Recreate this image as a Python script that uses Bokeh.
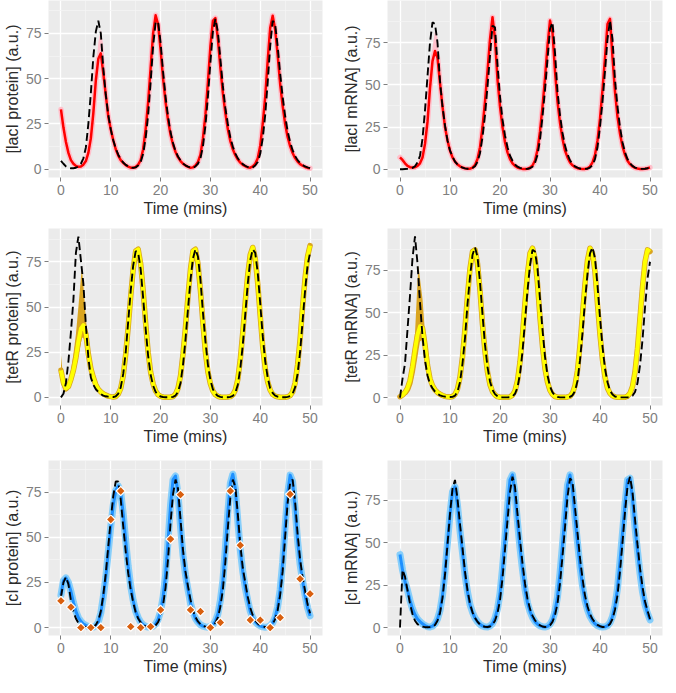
import numpy as np
from bokeh.plotting import figure
from bokeh.layouts import column, row
from bokeh.models import Range1d, FixedTicker
from bokeh.embed import file_html
from bokeh.resources import INLINE

# ---------------- data ----------------
TIME = [i * 0.5 for i in range(101)]  # minutes, 0 .. 50 in half-minute steps

X_TICKS = [0, 10, 20, 30, 40, 50]
X_MINOR = [5, 15, 25, 35, 45]
Y_TICKS = [0, 25, 50, 75]
Y_MINOR = [12.5, 37.5, 62.5, 87.5]

# lacI protein
LACI_P_MEAN = [33, 23, 15, 9, 5, 3, 1.8, 1.3, 1.5, 2.5,
               4.5, 9, 17, 31, 49, 61, 64, 53, 41, 29,
               22, 16, 11, 7.5, 5, 3.5, 2.2, 1.4, 0.8, 0.8,
               1.2, 2.5, 5, 11, 22, 37, 56, 75, 85, 80,
               66, 50, 37, 27, 19, 13.5, 9.5, 6.5, 4.5, 3,
               2, 1.3, 0.8, 1, 2, 4, 8, 17, 30, 48,
               68, 82, 83.5, 72, 56, 42, 31, 22, 15.5, 11,
               7.7, 5.3, 3.6, 2.4, 1.6, 1.0, 0.8, 1.5, 3, 6,
               13, 25, 40, 60, 78, 84.8, 77, 63, 47, 35,
               25, 17.8, 12.7, 8.9, 6.1, 4.2, 2.8, 1.9, 1.2, 0.7,
               0.5]
LACI_P_DET = [4.6, 3, 1.5, 0.8, 0.5, 0.5, 0.8, 1.5, 3, 6,
              12, 25, 42, 62, 76, 82, 75, 56, 41, 30,
              22, 16, 11.5, 8, 5.5, 3.7, 2.4, 1.6, 0.9, 0.7,
              1, 2, 4, 8.5, 17, 30, 48, 68, 81, 81.5,
              70, 54, 40, 29, 20.5, 14.5, 10, 7, 4.8, 3.2,
              2.1, 1.4, 0.9, 0.7, 1.5, 3, 6, 12.5, 24, 40,
              59, 76, 83, 76, 61, 46, 34, 25, 17.5, 12.5,
              8.7, 6, 4.1, 2.8, 1.9, 1.2, 0.8, 1, 2, 4,
              8.5, 17, 30, 48, 68, 82, 80, 68, 53, 40,
              29.5, 21, 15, 10.5, 7.3, 5, 3.4, 2.3, 1.5, 1,
              0.6]
LACI_P_BAND_T = [6.5, 7, 7.5, 8, 8.5, 9, 9.5]
LACI_P_BAND_LO = [28, 46, 58, 61, 50, 38, 26]
LACI_P_BAND_HI = [35, 55, 70, 77, 68, 50, 33]

# lacI mRNA
LACI_M_MEAN = [7, 5.5, 3.5, 2, 1.2, 1, 1.2, 2, 3.5, 7,
               15, 28, 48, 64, 70, 66, 51, 37, 25, 17,
               11, 7, 4.5, 2.8, 1.7, 1, 0.5, 0.3, 0.3, 1,
               2.5, 6, 13, 25, 40, 58, 77, 90, 77, 53,
               37, 25, 16, 10, 6, 3.5, 2, 1, 0.5, 0.2,
               0.2, 0.3, 0.9, 2.2, 5.2, 11.5, 22.5, 37, 54, 73,
               88, 81, 58, 40, 27.5, 18, 11, 7, 4, 2.3,
               1.2, 0.6, 0.3, 0.2, 0.2, 0.6, 1.6, 4, 8.5, 17,
               30, 47, 66, 86, 89, 66, 46, 31, 21, 13.5,
               8.5, 5, 3, 1.6, 0.8, 0.4, 0.2, 0.2, 0.3, 0.6,
               1]
LACI_M_DET = [0, 0, 0.1, 0.2, 0.4, 0.8, 1.8, 4, 8, 18,
              35, 55, 75, 87, 86, 75, 52, 37, 26, 17,
              11, 7.5, 4.5, 2.8, 1.7, 1, 0.5, 0.3, 0.3, 0.7,
              1.8, 4.3, 9.5, 19, 32, 49, 67, 85, 84, 62,
              43, 29.5, 20, 13, 8, 5, 2.8, 1.5, 0.8, 0.4,
              0.2, 0.2, 0.6, 1.5, 3.8, 8.5, 17.5, 31, 47, 65,
              83, 87, 69, 46, 32, 21.5, 14, 8.8, 5.3, 3,
              1.7, 0.9, 0.4, 0.2, 0.2, 0.3, 1, 2.5, 6, 13,
              25, 40, 58, 77, 88, 77, 53, 37, 25, 16,
              10, 6, 3.5, 2, 1, 0.5, 0.2, 0.2, 0.3, 0.6,
              1]
LACI_M_BAND_T = [6, 6.5, 7, 7.5, 8]
LACI_M_BAND_LO = [45, 60, 66, 62, 48]
LACI_M_BAND_HI = [54, 72, 82, 78, 58]

# tetR protein
TETR_P_MEAN = [15, 8, 5, 6, 10, 15, 22, 31, 38, 40,
               35, 24, 16, 11, 7, 4.5, 3, 2, 1.2, 0.7,
               0.4, 0.2, 0.5, 1.8, 5, 12, 24, 39, 56, 71,
               81, 82, 74, 59, 41, 25, 14, 7.5, 3.5, 1.5,
               0.6, 0.2, 0.1, 0.1, 0.2, 0.5, 1.8, 5, 12, 24,
               39, 56, 71, 81, 82, 74, 59, 41, 25, 14,
               7.5, 3.5, 1.5, 0.6, 0.2, 0.1, 0.1, 0.2, 0.4, 1.4,
               4, 10, 21, 36, 53, 68, 79, 83, 77, 63,
               45, 28, 16, 8.5, 4, 1.7, 0.7, 0.3, 0.1, 0.1,
               0.1, 0.3, 1, 3, 8, 18, 32, 50, 66, 78,
               84]
TETR_P_DET = [0, 2, 8, 20, 36, 54, 80, 89, 76, 63,
              40, 22, 11, 7, 4.5, 3, 1.8, 1, 0.6, 0.4,
              0.3, 0.2, 0.6, 2, 5.5, 13, 25, 42, 59, 73,
              81, 80, 71, 55, 38, 23, 12.5, 6.5, 3, 1.3,
              0.5, 0.2, 0.1, 0.1, 0.1, 0.3, 1, 3, 8, 18,
              32, 49, 65, 77, 82, 78, 65, 47, 31, 18,
              9.5, 4.5, 2, 0.8, 0.3, 0.1, 0.1, 0.1, 0.3, 0.8,
              2.5, 7, 16, 29, 46, 63, 76, 82, 80, 69,
              52, 34, 20, 11, 5, 2.4, 1, 0.4, 0.1, 0.1,
              0.1, 0.3, 0.7, 2, 5.5, 13, 25, 42, 59, 73,
              80]
TETR_P_BAND_T = [0, 0.5, 1, 1.5, 2, 2.5, 3, 3.5, 4, 4.2, 4.5, 5, 5.5, 6, 6.5, 7, 7.5, 8]
TETR_P_BAND_LO = [8, 4, 3, 4, 7, 11, 16, 23, 30, 33, 33, 29, 20, 13, 8.5, 5.5, 3.5, 2.2]
TETR_P_BAND_HI = [23.5, 9, 6, 9, 15, 24, 35, 50, 66, 72, 62, 44, 28, 19, 13, 9, 6, 4]

# tetR mRNA
TETR_M_MEAN = [0.5, 1.5, 3, 5.5, 10, 18, 28, 37, 42, 41,
               31, 19, 11, 7, 4.5, 3, 2, 1.2, 0.7, 0.4,
               0.3, 0.6, 1.8, 5, 12, 24, 41, 60, 76, 86,
               87, 79, 63, 43, 27, 15, 7.5, 3.5, 1.5, 0.5,
               0.2, 0.1, 0.1, 0.1, 0.4, 1.4, 4, 10, 21, 37,
               56, 73, 85, 88, 82, 67, 47, 30, 17, 9,
               4.2, 1.8, 0.6, 0.2, 0.1, 0.1, 0.1, 0.3, 0.8, 2.6,
               7, 16, 31, 49, 67, 81, 88, 85, 74, 55,
               37, 22, 12, 5.5, 2.5, 1, 0.4, 0.1, 0.1, 0.1,
               0.2, 0.8, 2.5, 6.5, 15, 29, 47, 65, 80, 87,
               86]
TETR_M_DET = [0, 11, 20, 40, 60, 82, 95, 79, 56, 36,
              22, 13, 8, 5.5, 3.5, 2.2, 1.3, 0.8, 0.5, 0.3,
              0.3, 0.4, 1.1, 3.5, 9, 20, 35, 55, 71, 84,
              88.5, 83, 68, 49, 31, 18, 9.5, 4.5, 2, 0.8,
              0.3, 0.1, 0.1, 0.1, 0.2, 0.7, 2.2, 6, 14, 27,
              45, 63, 78, 87, 86, 76, 58, 40, 24, 13,
              6.5, 3, 1.2, 0.4, 0.1, 0.1, 0.1, 0.1, 0.4, 1.3,
              3.8, 9.8, 22, 38, 57, 73, 85, 88.5, 82, 66,
              47, 30, 17, 9, 4, 1.8, 0.6, 0.2, 0.1, 0.1,
              0.1, 0.1, 0.3, 1, 3.2, 8.5, 19, 34, 53, 70,
              80]
TETR_M_BAND_T = [0, 0.5, 1, 1.5, 2, 2.5, 3, 3.5, 3.7, 4, 4.5, 5, 5.5, 6, 6.5, 7, 7.5, 8]
TETR_M_BAND_LO = [0, 0.5, 1, 2, 4, 8, 15, 24, 28, 33, 34, 24, 14, 8, 5, 3, 2, 1]
TETR_M_BAND_HI = [0.5, 1, 2, 4, 8, 17, 38, 68, 78, 70, 58, 38, 22, 13, 8, 5, 3, 2]

# cI protein
CI_P_MEAN = [18, 26, 27.5, 25, 20, 14, 9, 5.5, 3.5, 2,
             1.2, 0.5, 0.3, 0.3, 1, 3, 8, 17, 28, 42,
             56, 68, 76, 78.5, 75, 63, 48, 34, 23, 15,
             9, 5.5, 3, 1.5, 0.7, 0.3, 0.3, 0.7, 2, 4.5,
             9, 17, 29, 48, 68, 82, 84, 74, 56, 40,
             29, 21, 13.5, 8.5, 5, 3, 1.6, 0.8, 0.4, 0.2,
             0.6, 1.6, 3.6, 7.5, 15, 26, 44, 64, 80, 85,
             77, 59, 43, 31, 22, 15, 9, 5.5, 3.2, 1.8,
             0.9, 0.4, 0.2, 0.4, 1, 2.6, 5.8, 11.5, 21, 36,
             56, 74, 84.5, 81, 66, 48, 35, 26, 18, 11,
             6.5]
CI_P_DET = [17, 25, 28, 24, 15, 9, 5, 2.5, 1.2, 0.6,
            0.3, 0.2, 0.2, 0.5, 1.5, 4, 9, 18, 30, 45,
            60, 73, 81, 81, 71, 56, 42, 30, 21, 14,
            8.5, 5, 2.8, 1.4, 0.7, 0.3, 0.2, 0.4, 1.2, 3,
            6.3, 12.5, 22, 38, 58, 74, 82, 77, 60, 43,
            31, 23, 15.5, 9.5, 5.8, 3.4, 1.9, 1, 0.5, 0.2,
            0.3, 1, 2.6, 5.6, 11.5, 21, 36, 55, 72, 82,
            78, 63, 46, 33, 25, 17, 11, 6.8, 4, 2.3,
            1.2, 0.6, 0.3, 0.3, 0.8, 2, 4.7, 9.5, 18, 31,
            50, 69, 80, 82, 70, 52, 38, 28, 20.5, 13,
            8]
CI_OBS_T = [0, 2, 4, 6, 8, 10, 12, 14, 16, 18, 20, 22, 24, 26, 28, 30,
            32, 34, 36, 38, 40, 42, 44, 46, 48, 50]
CI_OBS_Y = [14.8, 11.3, 0, 0, 0, 59.9, 75.7, 0.5, 0, 0.5, 9.8, 49, 73.7, 9.8, 8.9, 0,
            2.8, 75.7, 45.6, 4.2, 4.1, 0, 5.5, 73.9, 27, 18.7]

# cI mRNA
CI_M_MEAN = [43, 34, 27, 22, 16, 11, 7.5, 5, 3.5, 2.2,
             1.2, 0.5, 0.3, 0.8, 2.2, 5, 10, 19, 33, 50,
             67, 80, 83, 72, 57, 44, 31, 21, 13.5, 9,
             5.6, 3.4, 1.9, 0.9, 0.4, 0.3, 0.9, 2.3, 5.5, 11,
             20, 35, 53, 71, 87, 90, 79, 62, 47, 34,
             22.5, 14.5, 9.5, 6, 3.5, 2, 1, 0.5, 0.3, 0.7,
             1.9, 4.5, 9.5, 18, 32, 49, 67, 84, 90, 81,
             65, 50, 36, 24.5, 16, 10.5, 6.5, 4, 2.2, 1.1,
             0.5, 0.3, 0.4, 1.1, 2.8, 6.5, 13, 23, 39, 56,
             73, 87, 88, 76, 59, 45, 32, 21, 13.5, 8.5,
             4.5]
CI_M_DET = [0, 34, 30, 22, 14, 8, 4, 2, 1, 0.5,
            0.2, 0.2, 0.3, 0.5, 1.5, 4, 8.5, 17.5, 31, 49,
            67, 82, 87, 76, 61, 47, 33, 22, 14, 9,
            5.7, 3.4, 1.8, 0.9, 0.4, 0.3, 0.6, 1.6, 4, 8.5,
            16, 29, 46, 63, 80, 89, 83, 67, 52, 38,
            26, 17, 11, 7, 4.3, 2.5, 1.3, 0.6, 0.3, 0.5,
            1.3, 3.3, 7.3, 14, 26, 42, 59, 77, 88, 86,
            71, 56, 41, 29, 19, 12.5, 8, 5, 3, 1.6,
            0.8, 0.3, 0.3, 0.8, 2.1, 5, 10.5, 19, 33, 50,
            68, 83, 89, 80, 64, 49, 35, 24, 15.5, 10,
            5]
CI_M_BAND_T = [0, 0.5, 1, 1.5, 2, 2.5, 3]
CI_M_BAND_LO = [39, 30, 23, 18, 13, 9, 6]
CI_M_BAND_HI = [47, 38, 31, 29, 21, 14, 9.5]

# ---------------- styling helpers ----------------
FONT = "Liberation Sans"


def make_panel(ylabel, yr, width, height, left, right, top, bottom):
    p = figure(width=width, height=height,
               x_range=Range1d(-2.5, 52.5), y_range=Range1d(*yr),
               output_backend="svg", toolbar_location=None,
               min_border_left=left, min_border_right=right,
               min_border_top=top, min_border_bottom=bottom)
    p.background_fill_color = "#EBEBEB"
    p.border_fill_color = "white"
    p.outline_line_color = None
    xt = FixedTicker(ticks=X_TICKS, minor_ticks=X_MINOR)
    yt = FixedTicker(ticks=Y_TICKS, minor_ticks=Y_MINOR)
    p.xaxis.ticker = xt
    p.yaxis.ticker = yt
    p.xgrid.ticker = xt
    p.ygrid.ticker = yt
    for g in (p.xgrid[0], p.ygrid[0]):
        g.grid_line_color = "white"
        g.grid_line_width = 1.3
        g.minor_grid_line_color = "#F4F4F4"
        g.minor_grid_line_width = 0.8
    for ax in (p.xaxis[0], p.yaxis[0]):
        ax.axis_line_color = None
        ax.major_tick_line_color = "#7F7F7F"
        ax.major_tick_in = 0
        ax.major_tick_out = 4
        ax.minor_tick_line_color = None
        ax.major_label_text_color = "#7F7F7F"
        ax.major_label_text_font = FONT
        ax.major_label_text_font_size = "14px"
        ax.major_label_standoff = 3
        ax.axis_label_text_font = FONT
        ax.axis_label_text_font_size = "16px"
        ax.axis_label_text_font_style = "normal"
        ax.axis_label_text_color = "#2B2B2B"
        ax.axis_label_standoff = 2
    p.xaxis.axis_label = "Time (mins)"
    p.yaxis.axis_label = ylabel
    return p


def draw(p, mean, det, band_t, band_lo, band_hi, line_col, band_col, band_w, line_w):
    if band_t is not None:
        p.varea(x=band_t, y1=band_lo, y2=band_hi, fill_color=band_col, fill_alpha=1.0)
    p.line(TIME, mean, line_color=band_col, line_width=band_w, line_join="round", line_cap="round")
    p.line(TIME, mean, line_color=line_col, line_width=line_w, line_join="round")
    p.line(TIME, det, line_color="black", line_width=1.9, line_dash="8 4")


W1, W2 = 339, 327
H1, H2, H3 = 228, 228, 226

p1 = make_panel("[lacI protein] (a.u.)", (-4.6, 93.2), W1, H1, 44, 17, 0, 51)
draw(p1, LACI_P_MEAN, LACI_P_DET, LACI_P_BAND_T, LACI_P_BAND_LO, LACI_P_BAND_HI,
     "#FF0000", "#FFC0CB", 5.5, 2.5)
p2 = make_panel("[lacI mRNA] (a.u.)", (-4.9, 99.9), W2, H1, 44, 4, 0, 51)
draw(p2, LACI_M_MEAN, LACI_M_DET, LACI_M_BAND_T, LACI_M_BAND_LO, LACI_M_BAND_HI,
     "#FF0000", "#FFC0CB", 5.5, 2.5)

p3 = make_panel("[tetR protein] (a.u.)", (-4.5, 93.5), W1, H2, 44, 17, 0, 51)
draw(p3, TETR_P_MEAN, TETR_P_DET, TETR_P_BAND_T, TETR_P_BAND_LO, TETR_P_BAND_HI,
     "#FFFF00", "#DAA520", 5.5, 4)
p4 = make_panel("[tetR mRNA] (a.u.)", (-4.7, 99.6), W2, H2, 44, 4, 0, 51)
draw(p4, TETR_M_MEAN, TETR_M_DET, TETR_M_BAND_T, TETR_M_BAND_LO, TETR_M_BAND_HI,
     "#FFFF00", "#DAA520", 5.5, 4)

p5 = make_panel("[cI protein] (a.u.)", (-4.4, 92.6), W1, H3, 44, 17, 4, 47)
draw(p5, CI_P_MEAN, CI_P_DET, None, None, None, "#1E90FF", "#87CEFA", 7, 3)
p5.scatter(CI_OBS_T, CI_OBS_Y, marker="square", angle=np.pi / 4, size=6.5,
           fill_color="#D95F0E", line_color="white", line_width=1.2)
p6 = make_panel("[cI mRNA] (a.u.)", (-4.7, 98.5), W2, H3, 44, 4, 4, 47)
draw(p6, CI_M_MEAN, CI_M_DET, CI_M_BAND_T, CI_M_BAND_LO, CI_M_BAND_HI,
     "#1E90FF", "#87CEFA", 7, 3)

layout = column(row(p1, p2), row(p3, p4), row(p5, p6))
open("out.html", "w").write(file_html(layout, INLINE))
